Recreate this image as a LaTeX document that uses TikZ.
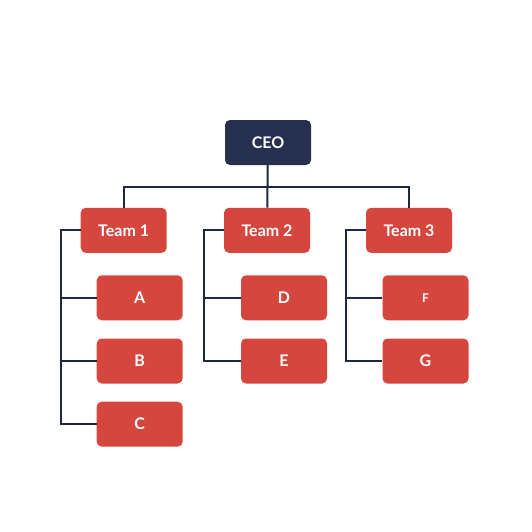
\documentclass[tikz,border=0pt]{standalone}
\usepackage{fontspec}
\setmainfont{Lato}
\usepackage{tikz}

\definecolor{navy}{HTML}{283050}
\definecolor{wirecol}{HTML}{1E2640}
\definecolor{boxred}{HTML}{D5463F}

\begin{document}
\begin{tikzpicture}[x=1pt,y=-1pt,
  box/.style={fill=boxred,rounded corners=5pt,minimum width=86pt,minimum height=45pt,
    text=white,font=\fontsize{16}{19}\selectfont\bfseries,inner sep=0pt},
  wire/.style={draw=wirecol,line width=2pt}]
\useasboundingbox (0,0) rectangle (532,532);
\node[box,fill=navy] (ceo) at (268,142.5) {CEO};
\node[box] (t1) at (123.7,230.3) {Team 1};
\node[box] (t2) at (267,230.3) {Team 2};
\node[box] (t3) at (409,230.3) {Team 3};
\node[box] (a) at (139.7,297.8) {A};
\node[box] (b) at (139.7,361) {B};
\node[box] (c) at (139.7,424.2) {C};
\node[box] (d) at (284,297.8) {D};
\node[box] (e) at (284,361) {E};
\node[box,font=\fontsize{12}{14}\selectfont\bfseries] (f) at (425.5,297.8) {F};
\node[box] (g) at (425.5,361) {G};
\coordinate (bus) at (268,186.7);
\draw[wire] (ceo) -- (t2);
\draw[wire] (t1.north) |- (bus) -| (t3.north);
\foreach \from/\to in {t1/a,t1/b,t1/c,t2/d,t2/e,t3/f,t3/g}
\draw[wire] (\from.west) -- ++(-20,0) |- (\to.west);
\end{tikzpicture}
\end{document}
